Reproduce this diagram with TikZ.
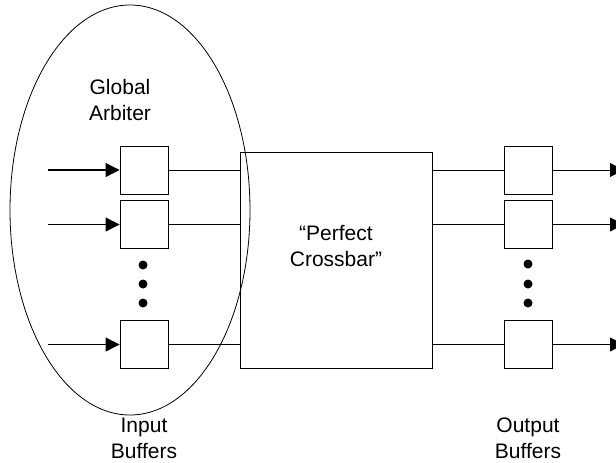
\documentclass[tikz,border=0pt]{standalone}
\usepackage{fontspec}
\setmainfont{Liberation Sans}
\usetikzlibrary{arrows.meta}
\begin{document}
\begin{tikzpicture}[x=1pt,y=-1pt,
  buf/.style={draw,line width=0.9pt,minimum width=48pt,minimum height=48pt,inner sep=0pt},
  lbl/.style={align=center,font=\fontsize{21pt}{26pt}\selectfont,inner sep=0pt},
  wire/.style={line width=0.9pt},
  inarrow/.style={line width=1.1pt,-{Triangle[length=14pt,width=14pt]}},
  outarrow/.style={line width=0.9pt,-{Triangle[length=14pt,width=14pt]}},
  dotmark/.style={circle,fill=black,minimum size=9pt,inner sep=0pt}]
\useasboundingbox (0,0) rectangle (616,463);
% ellipse (global arbiter)
\draw[line width=0.8pt] (130,210) ellipse [x radius=120, y radius=205];
% crossbar
\node[draw,line width=0.9pt,minimum width=192pt,minimum height=216pt,inner sep=0pt] (cb) at (336,260) {};
\node[lbl] (cbt) at (336,246) {“Perfect\\Crossbar”};
% input buffers
\node[buf] (i1) at (144,170) {};
\node[buf] (i2) at (144,224.5) {};
\node[buf] (i3) at (144,344.5) {};
% output buffers
\node[buf] (o1) at (528,170) {};
\node[buf] (o2) at (528,224.5) {};
\node[buf] (o3) at (528,344.5) {};
% input arrows
\coordinate (a1) at (48,170);
\coordinate (a2) at (48,224.5);
\coordinate (a3) at (48,344.5);
\draw[inarrow] (a1) -- (i1.west);
\draw[inarrow] (a2) -- (i2.west);
\draw[inarrow] (a3) -- (i3.west);
% wires to crossbar
\draw[wire] (i1.east) -- (i1.east -| cb.west);
\draw[wire] (i2.east) -- (i2.east -| cb.west);
\draw[wire] (i3.east) -- (i3.east -| cb.west);
\draw[wire] (o1.west -| cb.east) -- (o1.west);
\draw[wire] (o2.west -| cb.east) -- (o2.west);
\draw[wire] (o3.west -| cb.east) -- (o3.west);
% output arrows
\coordinate (b1) at (624,170);
\coordinate (b2) at (624,224.5);
\coordinate (b3) at (624,344.5);
\draw[outarrow] (o1.east) -- (b1);
\draw[outarrow] (o2.east) -- (b2);
\draw[outarrow] (o3.east) -- (b3);
% dots
\node[dotmark] (d1) at (143,265) {};
\node[dotmark] (d2) at (143,284) {};
\node[dotmark] (d3) at (143,303) {};
\node[dotmark] (e1) at (528,264) {};
\node[dotmark] (e2) at (528,284) {};
\node[dotmark] (e3) at (528,303) {};
% labels
\node[lbl] (ga) at (120,100) {Global\\Arbiter};
\node[lbl] (ib) at (144,438) {Input\\Buffers};
\node[lbl] (ob) at (528,438) {Output\\Buffers};
\end{tikzpicture}
\end{document}
